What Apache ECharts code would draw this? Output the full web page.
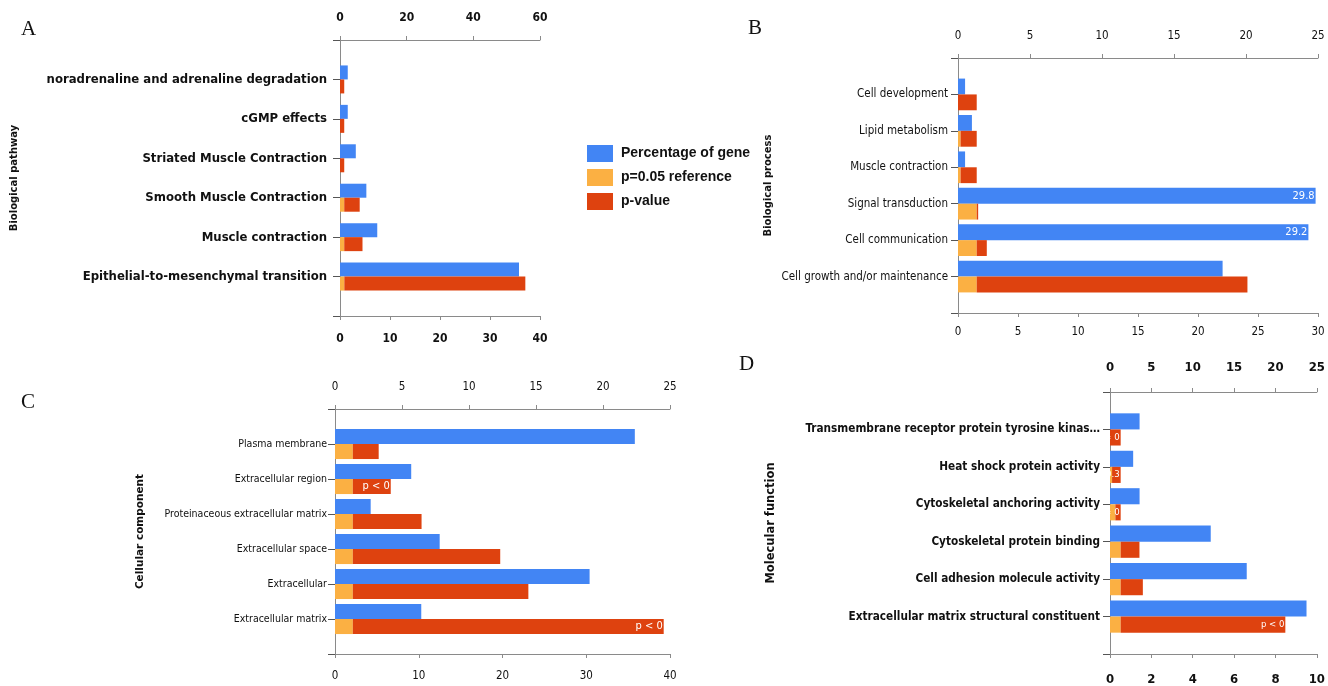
<!DOCTYPE html>
<html><head><meta charset="utf-8">
<script src="https://cdn.jsdelivr.net/npm/echarts@6/dist/echarts.min.js"></script>
<style>html,body{margin:0;padding:0;background:#fff}#c{width:1328px;height:686px}</style>
</head><body><div id="c"></div>
<script>
// ---------- Data ----------
const seriesNames = ['Percentage of gene', 'p=0.05 reference', 'p-value'];

// A: Biological pathway
const aCategories = ['noradrenaline and adrenaline degradation', 'cGMP effects', 'Striated Muscle Contraction', 'Smooth Muscle Contraction', 'Muscle contraction', 'Epithelial-to-mesenchymal transition'];
const aGene = [1.55, 1.55, 3.16, 5.27, 7.45, 35.8];
const aRef  = [0, 0, 0, 1.27, 1.27, 1.3];
const aP    = [1.27, 1.27, 1.27, 4.64, 5.48, 54.3];
const aGeneTicks = [0, 10, 20, 30, 40];
const aPTicks = [0, 20, 40, 60];

// B: Biological process
const bCategories = ['Cell development', 'Lipid metabolism', 'Muscle contraction', 'Signal transduction', 'Cell communication', 'Cell growth and/or maintenance'];
const bGene = [0.59, 1.16, 0.59, 29.8, 29.2, 22.05];
const bRef  = [0, 0.18, 0.18, 1.3, 1.3, 1.3];
const bP    = [1.3, 1.12, 1.12, 0.1, 0.7, 18.8];
const bGeneLabels = ['', '', '', '29.8', '29.2', ''];
const bGeneTicks = [0, 5, 10, 15, 20, 25, 30];
const bPTicks = [0, 5, 10, 15, 20, 25];

// C: Cellular component
const cCategories = ['Plasma membrane', 'Extracellular region', 'Proteinaceous extracellular matrix', 'Extracellular space', 'Extracellular', 'Extracellular matrix'];
const cGene = [35.8, 9.1, 4.26, 12.5, 30.4, 10.3];
const cRef  = [1.33, 1.33, 1.33, 1.33, 1.33, 1.33];
const cP    = [1.93, 2.83, 5.13, 11.0, 13.1, 23.2];
const cPLabels = ['', 'p < 0', '', '', '', 'p < 0'];
const cGeneTicks = [0, 10, 20, 30, 40];
const cPTicks = [0, 5, 10, 15, 20, 25];

// D: Molecular function
const dCategories = ['Transmembrane receptor protein tyrosine kinas\u2026', 'Heat shock protein activity', 'Cytoskeletal anchoring activity', 'Cytoskeletal protein binding', 'Cell adhesion molecule activity', 'Extracellular matrix structural constituent'];
const dGene = [1.43, 1.12, 1.43, 4.87, 6.61, 9.5];
const dRef  = [0, 0.25, 0.65, 1.29, 1.29, 1.29];
const dP    = [1.29, 1.04, 0.64, 2.27, 2.68, 19.9];
const dPLabels = ['= 0', '0.3', '= 0', '', '', 'p < 0'];
const dGeneTicks = [0, 2, 4, 6, 8, 10];
const dPTicks = [0, 5, 10, 15, 20, 25];

// ---------- Styling / layout ----------
const BLUE = '#4285f4', ORANGE = '#fbb043', RED = '#de420f';
const AXIS = '#8a8a8a';
const NARROW = "'Liberation Sans Narrow', 'DejaVu Sans Condensed', sans-serif";

const panels = [
  { letter: 'A', letterPos: [21, 19], title: 'Biological pathway', titleSize: 10, titleGap: 321,
    cats: aCategories, gene: aGene, ref: aRef, p: aP, geneLabels: null, pLabels: null,
    geneTicks: aGeneTicks, pTicks: aPTicks,
    grid: { left: 340, top: 40, width: 200, height: 276 }, catGap: '29%',
    catFont: { fontSize: 13, fontWeight: 'bold' }, catMargin: 13, barLabelSize: 11,
    tickFont: { fontSize: 12, fontWeight: 'bold' }, topMargin: 16, bottomMargin: 17 },
  { letter: 'B', letterPos: [748, 18], title: 'Biological process', titleSize: 10, titleGap: 185,
    cats: bCategories, gene: bGene, ref: bRef, p: bP, geneLabels: bGeneLabels, pLabels: null,
    geneTicks: bGeneTicks, pTicks: bPTicks,
    grid: { left: 958, top: 58, width: 360, height: 255 }, catGap: '13%',
    catFont: { fontSize: 11.5, fontWeight: 'normal' }, catMargin: 10, barLabelSize: 11,
    tickFont: { fontSize: 11.5, fontWeight: 'normal' }, topMargin: 16, bottomMargin: 13 },
  { letter: 'C', letterPos: [21, 392], title: 'Cellular component', titleSize: 10.5, titleGap: 189,
    cats: cCategories, gene: cGene, ref: cRef, p: cP, geneLabels: null, pLabels: cPLabels,
    geneTicks: cGeneTicks, pTicks: cPTicks,
    grid: { left: 335, top: 409, width: 335, height: 245 }, catGap: '14%',
    catFont: { fontSize: 10.5, fontWeight: 'normal' }, catMargin: 8, barLabelSize: 11,
    tickFont: { fontSize: 11.5, fontWeight: 'normal' }, topMargin: 16, bottomMargin: 16 },
  { letter: 'D', letterPos: [739, 354], title: 'Molecular function', titleSize: 11.5, titleGap: 333,
    cats: dCategories, gene: dGene, ref: dRef, p: dP, geneLabels: null, pLabels: dPLabels,
    geneTicks: dGeneTicks, pTicks: dPTicks,
    grid: { left: 1110, top: 392, width: 211, height: 265 }, catGap: '14%',
    catFont: { fontSize: 11.7, fontWeight: 'bold' }, catMargin: 10, barLabelSize: 9.5,
    tickFont: { fontSize: 13, fontWeight: 'bold' }, topMargin: 18, bottomMargin: 19 }
];

const pad = arr => ['-'].concat(arr, ['-']);
const padCats = arr => [''].concat(arr, ['']);
function withLabels(values, labels) {
  const items = values.map((v, i) => {
    const t = labels ? labels[i] : '';
    return t ? { value: v, label: { show: true, formatter: t } } : v;
  });
  return pad(items);
}

const option = {
  animation: false,
  backgroundColor: '#fff',
  title: [], grid: [], xAxis: [], yAxis: [], series: [],
  legend: {
    orient: 'vertical', left: 587, top: 145, padding: 0,
    itemWidth: 26, itemHeight: 17, itemGap: 7, icon: 'rect',
    data: seriesNames,
    textStyle: { fontFamily: "'Liberation Sans', Arial, sans-serif", fontSize: 14, fontWeight: 'bold', color: '#111', padding: [0, 0, 0, 3] }
  }
};

panels.forEach((pn, i) => {
  option.title.push({
    text: pn.letter, left: pn.letterPos[0], top: pn.letterPos[1], padding: 0,
    textStyle: { fontFamily: "'Liberation Serif', 'Times New Roman', serif", fontSize: 21, fontWeight: 'normal', color: '#111' }
  });
  option.grid.push(Object.assign({ containLabel: false }, pn.grid));
  const tickLbl = Object.assign({ fontFamily: NARROW, color: '#111' }, pn.tickFont);
  const gMax = pn.geneTicks[pn.geneTicks.length - 1];
  const pMax = pn.pTicks[pn.pTicks.length - 1];
  // bottom axis: percentage of gene
  option.xAxis.push({
    type: 'value', gridIndex: i, position: 'bottom', min: 0, max: gMax,
    interval: pn.geneTicks[1] - pn.geneTicks[0],
    axisLine: { show: true, lineStyle: { color: AXIS, width: 1 } },
    axisTick: { show: true, length: 4, lineStyle: { color: AXIS } },
    axisLabel: Object.assign({ margin: pn.bottomMargin }, tickLbl),
    splitLine: { show: false }
  });
  // top axis: p-value
  option.xAxis.push({
    type: 'value', gridIndex: i, position: 'top', min: 0, max: pMax,
    interval: pn.pTicks[1] - pn.pTicks[0],
    axisLine: { show: true, lineStyle: { color: AXIS, width: 1 } },
    axisTick: { show: true, length: 4, lineStyle: { color: AXIS } },
    axisLabel: Object.assign({ margin: pn.topMargin }, tickLbl),
    splitLine: { show: false }
  });
  option.yAxis.push({
    type: 'category', gridIndex: i, inverse: true, boundaryGap: false,
    data: padCats(pn.cats),
    name: pn.title, nameLocation: 'middle', nameGap: pn.titleGap, nameRotate: 90,
    nameMoveOverlap: false,
    nameTextStyle: { fontFamily: "'DejaVu Sans', sans-serif", fontSize: pn.titleSize, fontWeight: 'bold', color: '#111' },
    axisLine: { show: true, lineStyle: { color: AXIS, width: 1 } },
    axisTick: { show: true, length: 7, interval: 0, lineStyle: { color: '#555' } },
    axisLabel: Object.assign({ interval: 0, margin: pn.catMargin, fontFamily: NARROW, color: '#111' }, pn.catFont),
    splitLine: { show: false }
  });
  const lblStyle = { show: false, position: 'insideRight', distance: 1, color: '#fff', fontFamily: NARROW, fontSize: pn.barLabelSize, overflow: 'none' };
  option.series.push({
    name: seriesNames[0], type: 'bar', xAxisIndex: 2 * i, yAxisIndex: i,
    data: withLabels(pn.gene, pn.geneLabels), itemStyle: { color: BLUE },
    barGap: '0%', barCategoryGap: pn.catGap, label: lblStyle
  });
  option.series.push({
    name: seriesNames[1], type: 'bar', xAxisIndex: 2 * i + 1, yAxisIndex: i, stack: 'p' + i,
    data: pad(pn.ref), itemStyle: { color: ORANGE },
    barGap: '0%', barCategoryGap: pn.catGap
  });
  option.series.push({
    name: seriesNames[2], type: 'bar', xAxisIndex: 2 * i + 1, yAxisIndex: i, stack: 'p' + i,
    data: withLabels(pn.p, pn.pLabels), itemStyle: { color: RED },
    barGap: '0%', barCategoryGap: pn.catGap, label: lblStyle
  });
});

const chart = echarts.init(document.getElementById('c'), null, { renderer: 'canvas' });
chart.setOption(option);
</script>
</body></html>
